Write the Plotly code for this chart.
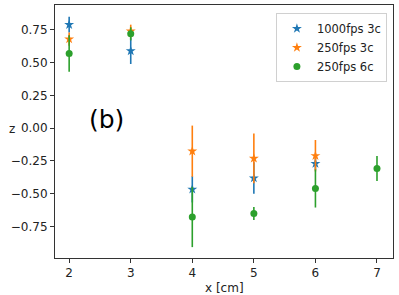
import plotly.graph_objects as go

x_vals = [2, 3, 4, 5, 6]
blue_y = [0.79, 0.59, -0.466, -0.38, -0.27]
blue_err = [0.06, 0.10, 0.10, 0.12, 0.05]
orange_y = [0.68, 0.74, -0.175, -0.23, -0.21]
orange_err = [0.05, 0.05, 0.195, 0.19, 0.12]
green_x = [2, 3, 4, 5, 6, 7]
green_y = [0.57, 0.72, -0.677, -0.65, -0.46, -0.307]
green_err = [0.14, 0.05, 0.23, 0.05, 0.145, 0.095]

ytick_vals = [-0.75, -0.5, -0.25, 0.0, 0.25, 0.5, 0.75]
ytick_text = ["\u22120.75", "\u22120.50", "\u22120.25", "0.00", "0.25", "0.50", "0.75"]
xtick_vals = [2, 3, 4, 5, 6, 7]

fig = go.Figure()
series = [
    ("1000fps 3c", x_vals, blue_y, blue_err, "#1f77b4", "star"),
    ("250fps 3c", x_vals, orange_y, orange_err, "#ff7f0e", "star"),
    ("250fps 6c", green_x, green_y, green_err, "#2ca02c", "circle"),
]
for name, xs, ys, es, col, sym in series:
    fig.add_trace(go.Scatter(
        x=xs, y=ys, name=name, mode="markers",
        marker=dict(color=col, symbol=sym, size=7 if sym == "circle" else 7.5,
                    line=dict(width=0)),
        error_y=dict(type="data", array=es, visible=True, color=col,
                     thickness=1.6, width=0),
    ))

fig.add_annotation(x=2.6, y=0.07, text="(b)", showarrow=False,
                   font=dict(size=25, color="black", family="DejaVu Sans"))
fig.add_annotation(xref="paper", yref="paper", x=0.5, y=-0.119, yanchor="middle",
                   text="x [cm]", showarrow=False,
                   font=dict(size=12, color="#222", family="DejaVu Sans"))
fig.add_annotation(xref="paper", yref="paper", x=-0.128, y=0.51, xanchor="center",
                   text="z", showarrow=False,
                   font=dict(size=12, color="#222", family="DejaVu Sans"))

fig.update_layout(
    width=399, height=295,
    margin=dict(l=55, r=6, t=5, b=37),
    paper_bgcolor="white", plot_bgcolor="white",
    font=dict(family="DejaVu Sans", size=12, color="#222"),
    showlegend=True,
    legend=dict(x=0.982, y=0.968, xanchor="right", yanchor="top",
                bordercolor="#d0d0d0", borderwidth=1, bgcolor="rgba(255,255,255,0.8)",
                font=dict(size=11.5), tracegroupgap=0),
    xaxis=dict(range=[1.77, 7.26], tickvals=xtick_vals, showgrid=False, zeroline=False,
               showline=True, linecolor="#333", linewidth=1, mirror=True,
               ticks="outside", ticklen=4, tickcolor="#333", automargin=False),
    yaxis=dict(range=[-0.99, 0.94], tickvals=ytick_vals, ticktext=ytick_text,
               showgrid=False, zeroline=False,
               showline=True, linecolor="#333", linewidth=1, mirror=True,
               ticks="outside", ticklen=4, tickcolor="#333", automargin=False),
)

fig.write_html("out.html", config={"displayModeBar": False},
               post_script="document.body.style.margin='0';")
